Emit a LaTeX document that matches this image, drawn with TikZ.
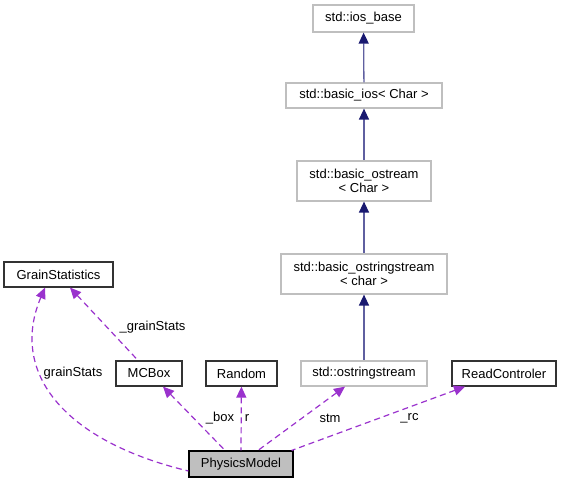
\documentclass[tikz,border=0pt]{standalone}
\usepackage{fontspec}
\setmainfont{Liberation Sans}
\usetikzlibrary{arrows.meta}
\definecolor{edgeblue}{RGB}{25,25,112}
\definecolor{edgeline}{RGB}{95,95,160}
\definecolor{purp}{RGB}{154,50,205}
\definecolor{graybox}{RGB}{191,191,191}
\definecolor{lightborder}{RGB}{191,191,191}
\begin{document}
\begin{tikzpicture}[x=1pt,y=-1pt,
  every node/.style={font=\fontsize{13}{14.5}\selectfont, inner sep=0pt, align=center},
  stdbox/.style={draw=lightborder, line width=1.2pt, fill=white},
  clsbox/.style={draw=black!80, line width=1.2pt, fill=white},
  inh/.style={draw=edgeline, line width=1.3pt, {Triangle[length=11pt,width=10pt,color=edgeblue]}-},
  usage/.style={draw=purp, line width=1.2pt, dash pattern=on 6pt off 4pt, {Triangle[length=11pt,width=10pt,color=purp]}-},
  lbl/.style={font=\fontsize{13}{14.5}\selectfont}
]
\useasboundingbox (0,0) rectangle (561,483);
\node[stdbox, minimum width=101pt, minimum height=27pt] (ios) at (363.5,18.5) {std::ios\_base};
\node[stdbox, minimum width=156pt, minimum height=25pt] (bios) at (364,95.5) {std::basic\_ios< Char >};
\node[stdbox, minimum width=134pt, minimum height=40pt] (bost) at (364,181) {std::basic\_ostream\\< Char >};
\node[stdbox, minimum width=166pt, minimum height=40pt] (bostr) at (364,274) {std::basic\_ostringstream\\< char >};
\node[stdbox, minimum width=126pt, minimum height=25pt] (ostr) at (364,373.5) {std::ostringstream};
\node[clsbox, minimum width=104pt, minimum height=25pt] (readc) at (504,373.5) {ReadControler};
\node[clsbox, minimum width=109pt, minimum height=25pt] (grain) at (58.5,274.5) {GrainStatistics};
\node[clsbox, minimum width=66pt, minimum height=25pt] (mcbox) at (149,373.5) {MCBox};
\node[clsbox, minimum width=71pt, minimum height=25pt] (random) at (241.5,373.5) {Random};
\node[draw=black, line width=1.2pt, fill=graybox, minimum width=104pt, minimum height=26pt] (phys) at (241,464) {PhysicsModel};

\draw[inh] (ios) -- (bios);
\draw[inh] (bios) -- (bost);
\draw[inh] (bost) -- (bostr);
\draw[inh] (bostr) -- (ostr);

\draw[usage] ([xshift=-13.5pt]grain.south) .. controls (10,370) and (60,440) .. ([yshift=-7pt]phys.west);
\draw[usage] ([xshift=11.5pt]grain.south) -- ([xshift=-11pt]mcbox.north);
\draw[usage] ([xshift=14pt]mcbox.south) -- ([xshift=-16pt]phys.north);
\draw[usage] (random) -- (phys.north);
\draw[usage] ([xshift=-19pt]ostr.south) -- ([xshift=17pt]phys.north);
\draw[usage] ([xshift=-39pt]readc.south) -- ([xshift=-2pt]phys.north east);

\node[lbl] (lgs) at (73,373) {grainStats};
\node[lbl] (lmgs) at (152.5,327) {\_grainStats};
\node[lbl] (lbox) at (220,418) {\_box};
\node[lbl] (lr) at (247,418) {r};
\node[lbl] (lstm) at (330,418) {stm};
\node[lbl] (lrc) at (409.5,418) {\_rc};
\end{tikzpicture}
\end{document}
